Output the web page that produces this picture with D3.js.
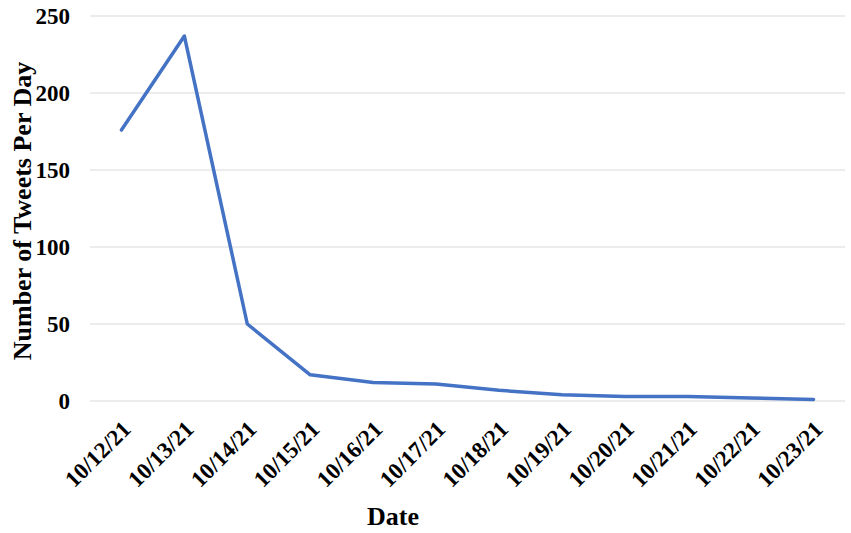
<!DOCTYPE html>
<html><head><meta charset="utf-8">
<script src="https://cdn.jsdelivr.net/npm/d3@7"></script>
<style>body{margin:0;background:#fff}</style>
</head><body>
<svg id="c" width="851" height="533"></svg>
<script>
const dates = ["10/12/21","10/13/21","10/14/21","10/15/21","10/16/21","10/17/21","10/18/21","10/19/21","10/20/21","10/21/21","10/22/21","10/23/21"];
const tweets = [176, 237, 50, 17, 12, 11, 7, 4, 3, 3, 2, 1];
const yTicks = [0, 50, 100, 150, 200, 250];

const svg = d3.select("#c");
const m = {left: 90, right: 6, top: 16, bottom: 132};
const W = 851, H = 533;
const x = d3.scalePoint().domain(dates).range([m.left, W - m.right]).padding(0.5);
const y = d3.scaleLinear().domain([0, 250]).range([H - m.bottom, m.top]);
const font = "'Liberation Serif','Times New Roman',serif";

svg.append("g").selectAll("line").data(yTicks).join("line")
  .attr("x1", m.left).attr("x2", W - m.right)
  .attr("y1", d => y(d)).attr("y2", d => y(d))
  .attr("stroke", "#d9d9d9").attr("stroke-width", 1);

svg.append("g").selectAll("text").data(yTicks).join("text")
  .attr("x", 70).attr("y", d => y(d)).attr("dy", "0.35em")
  .attr("text-anchor", "end").attr("font-family", font).attr("font-weight", "bold")
  .attr("font-size", 23).text(d => d);

svg.append("g").selectAll("text").data(dates).join("text")
  .attr("transform", d => `translate(${x(d) + 5},${y(0) + 24}) rotate(-45)`)
  .attr("text-anchor", "end").attr("dy", "0.35em")
  .attr("font-family", font).attr("font-weight", "bold").attr("font-size", 23)
  .text(d => d);

const line = d3.line().x((d, i) => x(dates[i])).y(d => y(d));
svg.append("path").datum(tweets).attr("d", line)
  .attr("fill", "none").attr("stroke", "#4472C4").attr("stroke-width", 3.5)
  .attr("stroke-linejoin", "round").attr("stroke-linecap", "round");

svg.append("text").attr("x", 393).attr("y", 525)
  .attr("text-anchor", "middle").attr("font-family", font).attr("font-weight", "bold")
  .attr("font-size", 26).text("Date");

svg.append("text").attr("transform", "translate(31,211) rotate(-90)")
  .attr("text-anchor", "middle").attr("font-family", font).attr("font-weight", "bold")
  .attr("font-size", 26).text("Number of Tweets Per Day");
</script>
</body></html>
